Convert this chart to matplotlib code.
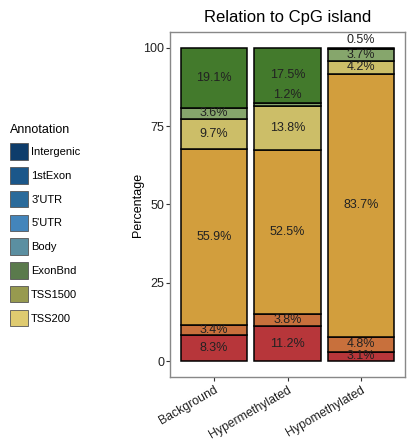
import matplotlib.pyplot as plt
from matplotlib.patches import Patch

plt.rcParams['font.family'] = ['Liberation Sans', 'DejaVu Sans']

# Samples on the x axis
groups = ["Background", "Hypermethylated", "Hypomethylated"]

# Stacked layers, bottom to top (percent of each sample)
layer_red = [8.3, 11.2, 3.1]
layer_orange = [3.4, 3.8, 4.8]
layer_gold = [55.9, 52.5, 83.7]
layer_khaki = [9.7, 13.8, 4.2]
layer_lightgreen = [3.6, 1.2, 3.7]
layer_darkgreen = [19.1, 17.5, 0.5]

layers = [layer_red, layer_orange, layer_gold, layer_khaki, layer_lightgreen, layer_darkgreen]
layer_colors = ["#b7363a", "#c8703c", "#d29e3d", "#ccbe68", "#86a66c", "#437a2c"]

# Legend entries
annotations = ["Intergenic", "1stExon", "3'UTR", "5'UTR", "Body", "ExonBnd", "TSS1500", "TSS200"]
annotation_colors = ["#0e3d6b", "#1b578a", "#2b6b9b", "#4385bb", "#5b8fa1", "#5a7a4c", "#979a4f", "#dfcb70"]

fig = plt.figure(figsize=(4.09, 4.40), dpi=100)
ax = fig.add_axes([170 / 409, 1 - 377 / 440, 235 / 409, 345 / 440])

x = list(range(1, len(groups) + 1))
bottom = [0.0] * len(groups)
for vals, col in zip(layers, layer_colors):
    ax.bar(x, vals, bottom=bottom, width=0.9, color=col, edgecolor="black", linewidth=1.1)
    for i, v in enumerate(vals):
        # thin slices get their label just above the slice
        if v < 2:
            ypos = bottom[i] + v + 2.3
        else:
            ypos = bottom[i] + v / 2
        ax.text(x[i], ypos, f"{v}%", ha="center", va="center", fontsize=9, color="#222222")
    bottom = [b + v for b, v in zip(bottom, vals)]

ax.set_xlim(0.4, 3.6)
ax.set_ylim(-5, 105)
ax.set_yticks([0, 25, 50, 75, 100])
ax.set_xticks(x)
ax.set_xticklabels(groups, rotation=30, ha="right", va="top", rotation_mode="anchor", fontsize=8.8)
ax.tick_params(axis="y", labelsize=9, length=3, color="#333333", labelcolor="#222222", pad=1)
ax.tick_params(axis="x", length=3, color="#333333", labelcolor="#222222", pad=2)
for s in ax.spines.values():
    s.set_color("#888888")
    s.set_linewidth(1.0)
ax.set_ylabel("Percentage", fontsize=9)
ax.yaxis.set_label_coords(-0.112, 0.5)
ax.set_title("Relation to CpG island", fontsize=12, pad=7)

handles = [Patch(facecolor=c, edgecolor="#555555", linewidth=0.6) for c in annotation_colors]
leg = fig.legend(handles, annotations, title="Annotation", loc="upper left",
                 bbox_to_anchor=(0.0, 1 - 114 / 440), frameon=False, fontsize=8,
                 title_fontsize=9, handlelength=1.65, handleheight=1.9,
                 labelspacing=0.66, handletextpad=0.25, alignment="left")

fig.savefig("out.png", dpi=100)
